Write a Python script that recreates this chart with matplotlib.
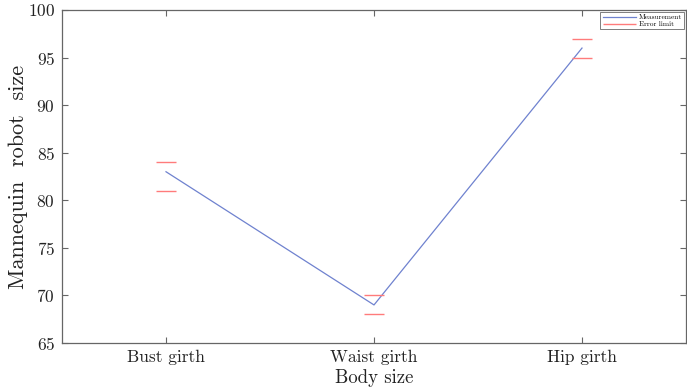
import numpy as np
import matplotlib
matplotlib.use('Agg')
import matplotlib.pyplot as plt

# data
parts = ['Bust girth', 'Waist girth', 'Hip girth']
measured = [83, 69, 96]
err_low = [81, 68, 95]
err_high = [84, 70, 97]
y_ticks = [65, 70, 75, 80, 85, 90, 95, 100]

plt.rcParams['font.family'] = ['cmr10', 'DejaVu Serif']
plt.rcParams['axes.formatter.use_mathtext'] = True
plt.rcParams['axes.unicode_minus'] = False

fig = plt.figure(figsize=(6.87, 3.92), dpi=100)
ax = fig.add_axes([62 / 687, 1 - 343 / 392, 624 / 687, 333 / 392])

x = np.arange(1, len(parts) + 1)
ax.plot(x, measured, color='#6f82cf', linewidth=0.9, label='Measurement')
half = 0.05
for i, xi in enumerate(x):
    lbl = 'Error limit' if i == 0 else None
    ax.hlines([err_low[i], err_high[i]], xi - half, xi + half,
              color='#ff7b7b', linewidth=1.0, label=lbl)

ax.set_xlim(0.5, 3.5)
ax.set_ylim(65, 100)
ax.set_xticks(x)
ax.set_xticklabels(parts)
ax.set_yticks(y_ticks)
ax.tick_params(direction='in', top=True, right=True, length=4, width=0.8,
               color='#666666', labelsize=12.5, labelcolor='#222222', pad=5)
for s in ax.spines.values():
    s.set_color('#666666')
    s.set_linewidth(0.9)

ax.set_xlabel('Body size', fontsize=13.5, color='#222222', labelpad=3)
ax.set_ylabel('Mannequin  robot  size', fontsize=16, color='#222222', labelpad=0)

leg = ax.legend(loc='upper right', fontsize=5.3, frameon=True, fancybox=False,
                borderpad=0.3, handlelength=4.5, labelspacing=0.1,
                handletextpad=0.4, borderaxespad=0.25)
leg.get_frame().set_edgecolor('#444444')
leg.get_frame().set_linewidth(0.6)

fig.savefig('out.png', dpi=100)
